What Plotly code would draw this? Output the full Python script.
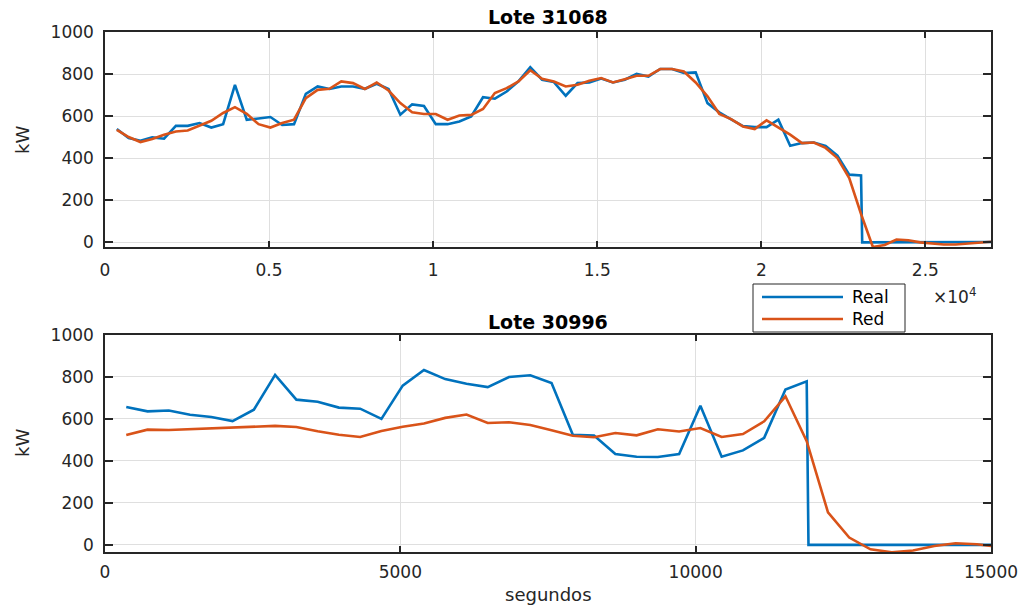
import plotly.graph_objects as go

# ---------------- data ----------------
# sampling time grid (seconds), one sample every 360 s
t_top = list(range(360, 27001, 360))          # 75 samples, Lote 31068
t_bot = list(range(360, 15121, 360))          # 42 samples, Lote 30996

real_top = [539, 496, 483, 499, 493, 554, 554, 567, 546, 562,
            749, 583, 589, 596, 558, 562, 706, 741, 729, 741,
            741, 730, 754, 729, 607, 656, 648, 562, 562, 575,
            599, 690, 683, 717, 765, 833, 773, 762, 697, 757,
            760, 779, 760, 773, 801, 788, 824, 824, 805, 808,
            662, 618, 585, 553, 548, 548, 583, 459, 472, 475,
            459, 412, 322, 318,
            0, 0, 0, 0, 0, 2, 2, 2, 2, 2, 2]
red_top = [535, 501, 477, 491, 512, 527, 532, 554, 578, 615,
           643, 611, 562, 546, 567, 583, 686, 725, 730, 765,
           757, 729, 760, 722, 662, 618, 610, 610, 583, 603,
           606, 634, 710, 733, 765, 818, 778, 765, 741, 749,
           768, 781, 760, 776, 792, 792, 824, 824, 812, 760,
           694, 611, 586, 551, 539, 580, 548, 512, 472, 475,
           449, 401, 306, 135, -22, -12, 14, 10, 0, -6,
           -10, -10, -6, -2, 3]

real_bot = [657, 636, 640, 620, 609, 590, 644, 810, 692, 682,
            654, 649, 600, 759, 833, 790, 768, 752, 800, 808,
            771, 525, 521, 433, 420, 419, 433, 663, 420, 450,
            510, 740, 779,
            0, 0, 0, 0, 0, 0, 0, 0, 0]
red_bot = [524, 549, 547, 551, 552, 557, 560, 567, 562, 541,
           525, 514, 543, 563, 578, 605, 621, 581, 584, 571,
           546, 520, 513, 533, 522, 551, 540, 557, 514, 528,
           589, 708, 494, 155, 35, -21, -35, -27, -5, 8,
           3, -10]

# the measured series drops to zero almost instantly after the last run sample
drop_top_t, drop_bot_t = 23075, 11910
n_top_on, n_bot_on = 64, 33
real_top_t = t_top[:n_top_on] + [drop_top_t] + t_top[n_top_on:]
real_top_v = real_top[:n_top_on] + [0] + real_top[n_top_on:]
real_bot_t = t_bot[:n_bot_on] + [drop_bot_t] + t_bot[n_bot_on:]
real_bot_v = real_bot[:n_bot_on] + [0] + real_bot[n_bot_on:]

titles = ["Lote 31068", "Lote 30996"]
series_names = ["Real", "Red"]
y_ticks = [0, 200, 400, 600, 800, 1000]
y_labels = ["0", "200", "400", "600", "800", "1000"]
x_top_ticks = [0, 5000, 10000, 15000, 20000, 25000]
x_top_labels = ["0", "0.5", "1", "1.5", "2", "2.5"]
x_bot_ticks = [0, 5000, 10000, 15000]
x_bot_labels = ["0", "5000", "10000", "15000"]

# ---------------- style ----------------
BLUE = "#0072BD"
ORANGE = "#D95319"
AX = "#262626"
GRID = "#dfdfdf"
FONT = "DejaVu Sans"
LW = 2.6

fig = go.Figure()
fig.add_trace(go.Scatter(x=real_top_t, y=real_top_v, mode="lines", name=series_names[0],
                         line=dict(color=BLUE, width=LW), xaxis="x", yaxis="y", showlegend=False))
fig.add_trace(go.Scatter(x=t_top, y=red_top, mode="lines", name=series_names[1],
                         line=dict(color=ORANGE, width=LW), xaxis="x", yaxis="y", showlegend=False))
fig.add_trace(go.Scatter(x=real_bot_t, y=real_bot_v, mode="lines", name=series_names[0],
                         line=dict(color=BLUE, width=LW), xaxis="x2", yaxis="y2", showlegend=False))
fig.add_trace(go.Scatter(x=t_bot, y=red_bot, mode="lines", name=series_names[1],
                         line=dict(color=ORANGE, width=LW), xaxis="x2", yaxis="y2", showlegend=False))

common_axis = dict(showgrid=True, gridcolor=GRID, gridwidth=1, zeroline=False,
                   showline=True, linecolor=AX, linewidth=1.5, mirror="ticks",
                   ticks="inside", tickcolor=AX, tickwidth=1.5,
                   tickfont=dict(family=FONT, size=17, color=AX))

fig.update_layout(
    width=1030, height=606,
    margin=dict(l=105, r=39, t=32, b=54),
    paper_bgcolor="white", plot_bgcolor="white",
    showlegend=False,
    xaxis=dict(common_axis, domain=[0, 1], anchor="y", range=[0, 27000],
               tickvals=x_top_ticks, ticktext=x_top_labels, ticklen=6, ticklabelstandoff=7),
    yaxis=dict(common_axis, domain=[0.5865, 1], anchor="x", range=[-22, 1000],
               tickvals=y_ticks, ticktext=y_labels, ticklen=8, ticklabelstandoff=6),
    xaxis2=dict(common_axis, domain=[0, 1], anchor="y2", range=[0, 15000],
                tickvals=x_bot_ticks, ticktext=x_bot_labels, ticklen=6, ticklabelstandoff=4),
    yaxis2=dict(common_axis, domain=[0, 0.4173], anchor="x2", range=[-34, 1000],
                tickvals=y_ticks, ticktext=y_labels, ticklen=8, ticklabelstandoff=6),
)

def px_x(p):
    return (p - 105) / 886.0

def px_y(p):
    return (552 - p) / 520.0

ann = []
ann.append(dict(text="<b>%s</b>" % titles[0], x=0.5, y=px_y(17), xref="paper", yref="paper",
                showarrow=False, xanchor="center", yanchor="middle",
                font=dict(family=FONT, size=19, color="black")))
ann.append(dict(text="<b>%s</b>" % titles[1], x=0.5, y=px_y(322), xref="paper", yref="paper",
                showarrow=False, xanchor="center", yanchor="middle",
                font=dict(family=FONT, size=19, color="black")))
for yc in (140, 443):
    ann.append(dict(text="kW", x=px_x(22), y=px_y(yc), xref="paper", yref="paper",
                    showarrow=False, textangle=-90, xanchor="center", yanchor="middle",
                    font=dict(family=FONT, size=18, color=AX)))
ann.append(dict(text="segundos", x=0.5, y=px_y(594), xref="paper", yref="paper",
                showarrow=False, xanchor="center", yanchor="middle",
                font=dict(family=FONT, size=18, color=AX)))
ann.append(dict(text="\u00d710<sup>4</sup>", x=px_x(931), y=px_y(296), xref="paper", yref="paper",
                showarrow=False, xanchor="left", yanchor="middle",
                font=dict(family=FONT, size=17, color=AX)))
# legend text
ann.append(dict(text=series_names[0], x=px_x(850), y=px_y(297), xref="paper", yref="paper",
                showarrow=False, xanchor="left", yanchor="middle",
                font=dict(family=FONT, size=17, color="black")))
ann.append(dict(text=series_names[1], x=px_x(850), y=px_y(319), xref="paper", yref="paper",
                showarrow=False, xanchor="left", yanchor="middle",
                font=dict(family=FONT, size=17, color="black")))
fig.update_layout(annotations=ann)

shapes = [
    dict(type="rect", xref="paper", yref="paper", x0=px_x(753), x1=px_x(905),
         y0=px_y(332), y1=px_y(284), line=dict(color=AX, width=1), fillcolor="white", layer="above"),
    dict(type="line", xref="paper", yref="paper", x0=px_x(762), x1=px_x(843),
         y0=px_y(297), y1=px_y(297), line=dict(color=BLUE, width=LW), layer="above"),
    dict(type="line", xref="paper", yref="paper", x0=px_x(762), x1=px_x(843),
         y0=px_y(319), y1=px_y(319), line=dict(color=ORANGE, width=LW), layer="above"),
]
fig.update_layout(shapes=shapes)

fig.write_html("out.html")
